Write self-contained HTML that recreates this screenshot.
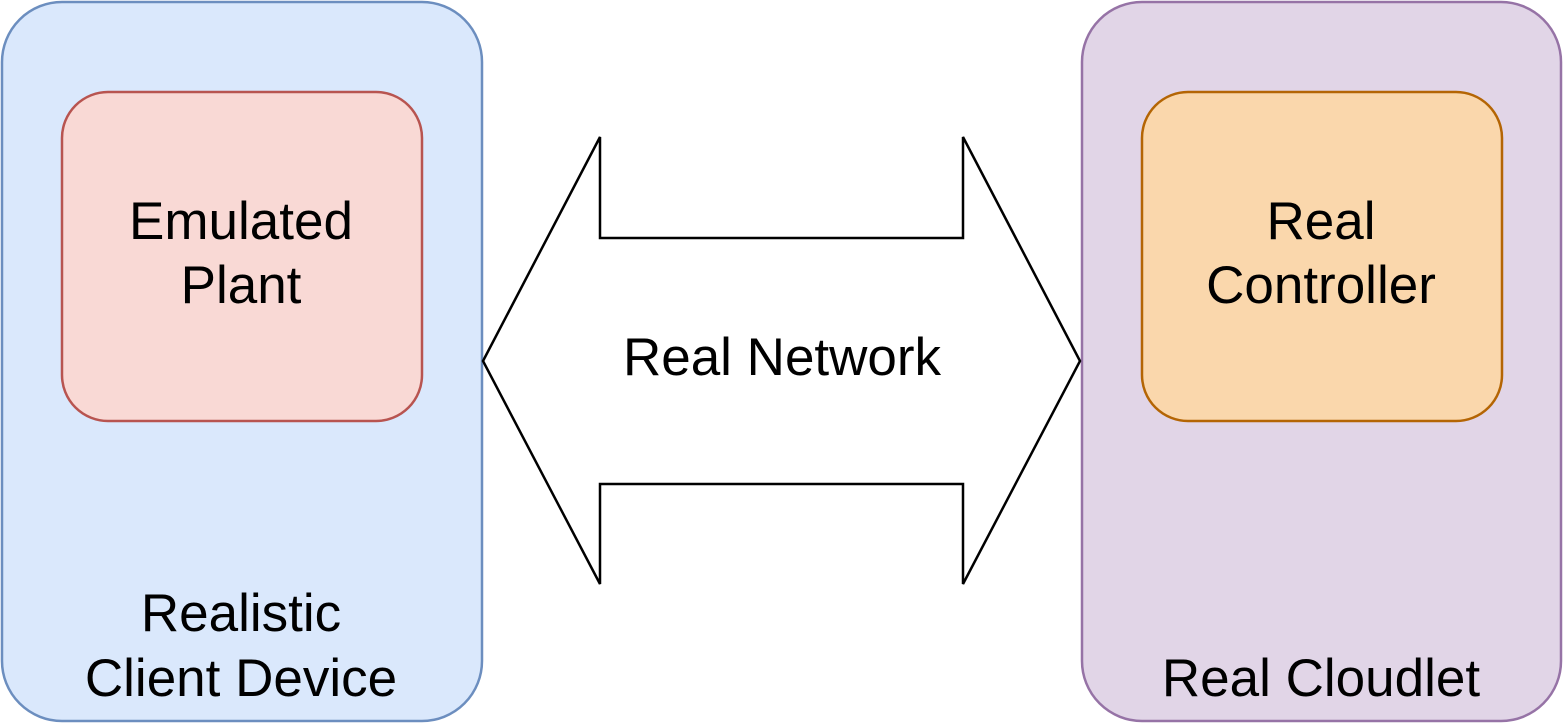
<!DOCTYPE html>
<html><head><meta charset="utf-8"><style>
html,body{margin:0;padding:0;background:#fff;}
svg{display:block;}
text{font-family:"Liberation Sans",Arial,sans-serif;font-size:53px;fill:#000;text-anchor:middle;}
</style></head><body>
<svg width="1563" height="723" viewBox="0 0 1563 723" xmlns="http://www.w3.org/2000/svg">
<rect x="2" y="2" width="480" height="719" rx="60" ry="60" fill="#dae8fc" stroke="#6c8ebf" stroke-width="2.5"/>
<rect x="62" y="92" width="360" height="329" rx="46" ry="46" fill="#f9d9d5" stroke="#b85450" stroke-width="2.5"/>
<rect x="1082" y="2" width="479" height="719" rx="60" ry="60" fill="#e1d5e7" stroke="#9673a6" stroke-width="2.5"/>
<rect x="1142" y="92" width="360" height="329" rx="46" ry="46" fill="#fad7ac" stroke="#b46504" stroke-width="2.5"/>
<polygon points="483,361 600,137 600,238 963,238 963,137 1080,361 963,584 963,484 600,484 600,584" fill="#fff" stroke="#000" stroke-width="2.5" stroke-linejoin="miter"/>
<text x="241" y="239">Emulated</text>
<text x="241" y="303">Plant</text>
<text x="1321" y="239">Real</text>
<text x="1321" y="303">Controller</text>
<text x="782" y="375">Real Network</text>
<text x="241" y="631">Realistic</text>
<text x="241" y="696">Client Device</text>
<text x="1321" y="696">Real Cloudlet</text>
</svg>
</body></html>
